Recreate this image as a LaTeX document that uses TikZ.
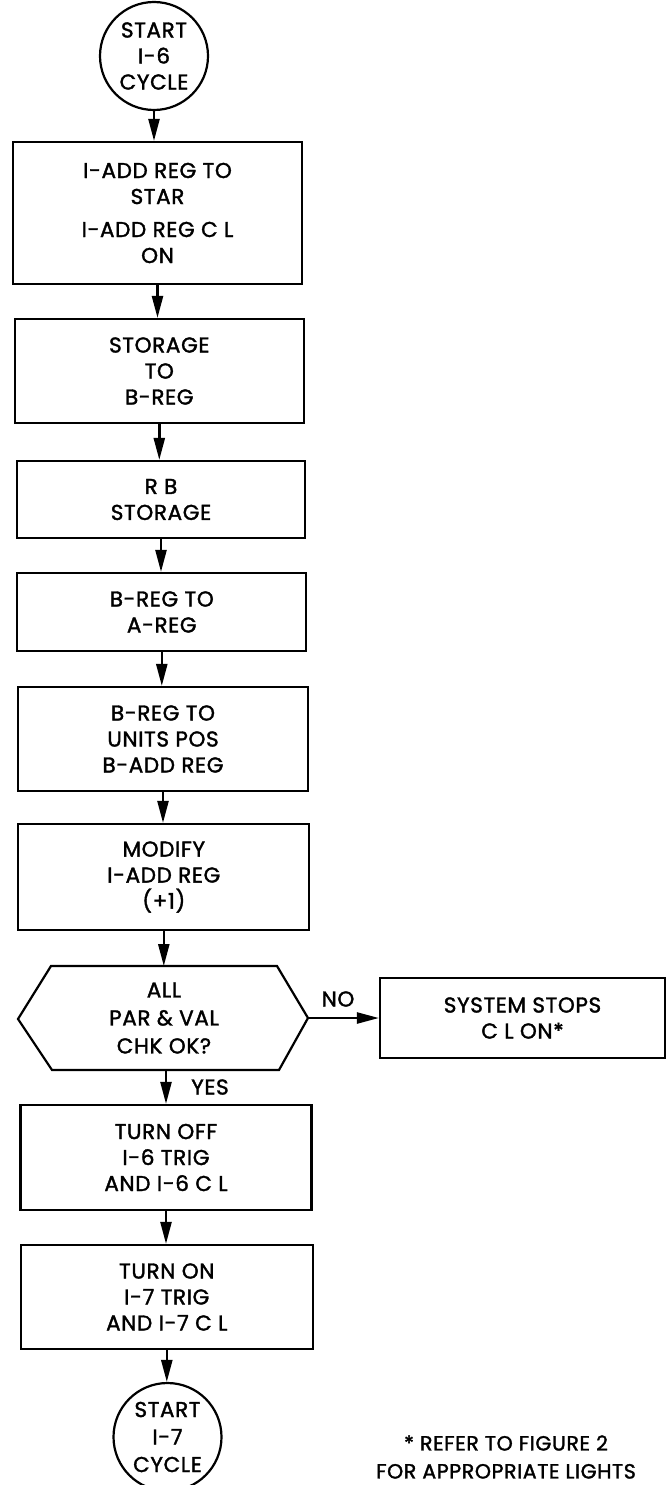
\documentclass[tikz,border=0pt]{standalone}
\usepackage{fontspec}
\setmainfont{Poppins}[FakeBold=1.6, LetterSpace=3]
\usetikzlibrary{arrows.meta}
\begin{document}
\begin{tikzpicture}[x=1pt,y=-1pt,
  txt/.style={font=\fontsize{21.5}{26}\selectfont, align=center},
  proc/.style={txt, draw, line width=2.2pt, inner sep=0pt},
  term/.style={txt, draw, circle, line width=2.2pt, inner sep=0pt, minimum size=108pt},
  arr/.style={line width=2.4pt, -{Triangle[length=22pt,width=11pt]}}]
\clip (0,0) rectangle (669,1485);
\fill[white] (0,0) rectangle (669,1485);

\node[term] (c1) at (154,56) {START\\I-6\\CYCLE};
\node[proc, minimum width=289pt, minimum height=142pt] (b1) at (157.5,213)
  {I-ADD REG TO\\STAR\\[7pt]I-ADD REG C L\\ON};
\node[proc, minimum width=289pt, minimum height=104pt] (b2) at (159.3,371)
  {STORAGE\\TO\\B-REG};
\node[proc, minimum width=288pt, minimum height=77pt] (b3) at (161,499.5)
  {R B\\STORAGE};
\node[proc, minimum width=289pt, minimum height=78pt] (b4) at (161.8,612)
  {B-REG TO\\A-REG};
\node[proc, minimum width=290pt, minimum height=104pt] (b5) at (163,739)
  {B-REG TO\\UNITS POS\\B-ADD REG};
\node[proc, minimum width=291pt, minimum height=106pt] (b6) at (163.8,877)
  {MODIFY\\I-ADD REG\\(+1)};

% decision hexagon
\coordinate (hL) at (18,1019);
\coordinate (hTL) at (51,966);
\coordinate (hTR) at (277,966);
\coordinate (hR) at (308,1018);
\coordinate (hBR) at (279,1070);
\coordinate (hBL) at (52,1070);
\draw[line width=2.2pt, line join=miter] (hL) -- (hTL) -- (hTR) -- (hR) -- (hBR) -- (hBL) -- cycle;
\node[txt, font=\fontsize{21.5}{28}\selectfont] (dec) at (164,1018) {ALL\\PAR \& VAL\\CHK OK?};
\coordinate (hT) at (164,966);
\coordinate (hB) at (166,1070);

\node[proc, minimum width=285pt, minimum height=80pt] (sys) at (522.5,1018)
  {SYSTEM STOPS\\C L ON*};

\node[proc, minimum width=291pt, minimum height=105pt] (b7) at (166,1157.5)
  {TURN OFF\\I-6 TRIG\\AND I-6 C L};
\node[proc, minimum width=292pt, minimum height=104pt] (b8) at (166.8,1297)
  {TURN ON\\I-7 TRIG\\AND I-7 C L};
\node[term, font=\fontsize{21.5}{27.5}\selectfont] (c2) at (167.5,1437) {START\\I-7\\CYCLE};

\node[txt] (no) at (338,999) {NO};
\node[txt] (yes) at (210,1087) {YES};
\node[txt, font=\fontsize{20.5}{28}\selectfont] (note) at (506,1457)
  {* REFER TO FIGURE 2\\FOR APPROPRIATE LIGHTS};

\draw[arr] (c1.south) -- (c1.south |- b1.north);
\draw[arr] (b1.south) -- (b1.south |- b2.north);
\draw[arr] (b2.south) -- (b2.south |- b3.north);
\draw[arr] (b3.south) -- (b3.south |- b4.north);
\draw[arr] (b4.south) -- (b4.south |- b5.north);
\draw[arr] (b5.south) -- (b5.south |- b6.north);
\draw[arr] (b6.south) -- (b6.south |- hT);
\draw[arr] (hR) -- (sys.west);
\draw[arr] (hB) -- (hB |- b7.north);
\draw[arr] (b7.south) -- (b7.south |- b8.north);
\draw[arr] (b8.south) -- (b8.south |- c2.north);
\end{tikzpicture}
\end{document}
